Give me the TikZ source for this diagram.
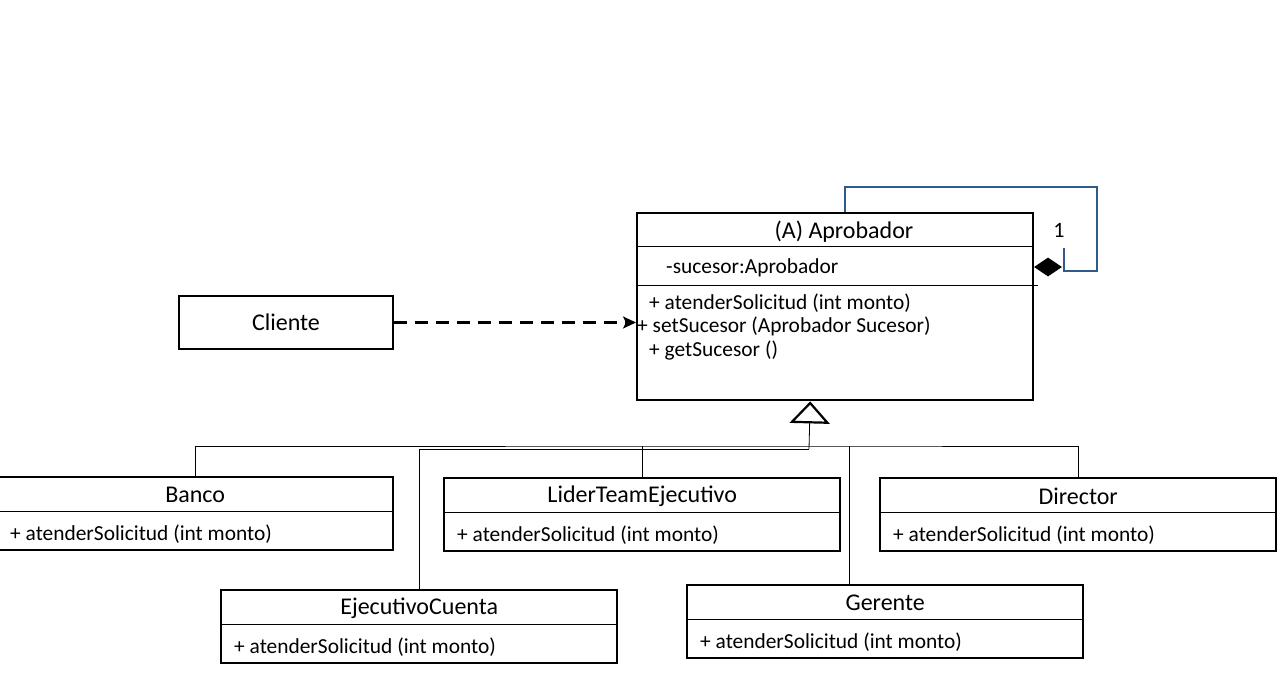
\documentclass[tikz,border=0pt]{standalone}
\usepackage{fontspec}
\setmainfont{Carlito}
\usepackage{xcolor}
\usetikzlibrary{arrows.meta,positioning,shapes.geometric}
\definecolor{loopblue}{HTML}{2F5B8C}
\tikzset{>=latex}
\tikzset{
  classbox/.style={draw,line width=2.4pt,minimum width=396pt,minimum height=73pt,inner sep=0pt,anchor=north west},
  sepline/.style={line width=0.8pt},
  classtitle/.style={font=\fontsize{24}{26}\selectfont,inner sep=0pt},
  method/.style={font=\fontsize{21.4}{23}\selectfont,inner sep=0pt,anchor=west},
  genline/.style={line width=0.8pt},
  dep/.style={line width=2.4pt,dash pattern=on 13pt off 8pt,-{Stealth[length=13pt,width=12pt,inset=3pt]}},
  selfloop/.style={line width=2.4pt,draw=loopblue}
}
% subclass box: name, x, y, title
\newcommand{\subclase}[4]{%
  \node[classbox] (#1) at (#2,#3) {};
  \draw[sepline] ([yshift=-35pt]#1.north west) -- ([yshift=-35pt]#1.north east);
  \node[classtitle] (#1-t) at ([yshift=-19pt]#1.north) {#4};
  \node[method] (#1-m) at ([xshift=14pt,yshift=17pt]#1.south west) {+ atenderSolicitud (int monto)};
}

\begin{document}
\begin{tikzpicture}[x=1pt,y=-1pt]
  \useasboundingbox (0,0) rectangle (1280,698);

  % abstract handler
  \node[classbox,minimum height=187pt] (apro) at (636,212) {};
  \draw[sepline] ([yshift=-34pt]apro.north west) -- ([yshift=-34pt]apro.north east);
  \draw[sepline] ([yshift=-73pt]apro.north west) -- ([yshift=-73pt,xshift=4pt]apro.north east);
  \node[classtitle] (apro-t) at (844,232) {(A) Aprobador};
  \node[method] (apro-a) at (666,268) {-sucesor:Aprobador};
  \node[method] (apro-m1) at (649,303) {+ atenderSolicitud (int monto)};
  \node[method] (apro-m2) at (637,326) {+ setSucesor (Aprobador Sucesor)};
  \node[method] (apro-m3) at (649,351) {+ getSucesor ()};

  % client
  \node[draw,line width=2.4pt,minimum width=214pt,minimum height=53pt,inner sep=0pt,
        font=\fontsize{24}{26}\selectfont] (cliente) at (286,322.5) {Cliente};
  \draw[dep] (cliente.east) -- (apro.west |- cliente.east);

  % successor reference
  \node[diamond,fill,inner sep=0pt,minimum width=28pt,minimum height=19pt] (agg) at (1048,267) {};
  \coordinate (loopend) at (1064,248);
  \draw[selfloop] ([xshift=10pt]apro.north) |- (1097,187) |- (loopend |- 0,271) -- (loopend);
  \node[font=\fontsize{22}{24}\selectfont] (mult) at (1059,230) {1};

  % concrete handlers
  \subclase{banco}{-4}{476}{Banco}
  \subclase{lider}{443}{477}{LiderTeamEjecutivo}
  \subclase{director}{879}{477}{Director}
  \subclase{ejecutivo}{220}{589}{EjecutivoCuenta}
  \subclase{gerente}{686}{584}{Gerente}

  \coordinate (hub) at (809,446);
  \coordinate (hublow) at (809,449);
  \draw[genline] (banco.north) |- (hub) -| (director.north);
  \draw[genline] (lider.north) -- (lider.north |- hub);
  \draw[genline] ([xshift=-36pt]gerente.north) -- ([xshift=-36pt]gerente.north |- hub);
  \draw[genline] (ejecutivo.north) |- (hublow);
  \draw[genline,-{Triangle[open,length=22pt,width=40pt,line width=2.2pt]}]
    (hublow) -- ([xshift=-25pt]apro.south);
\end{tikzpicture}
\end{document}
